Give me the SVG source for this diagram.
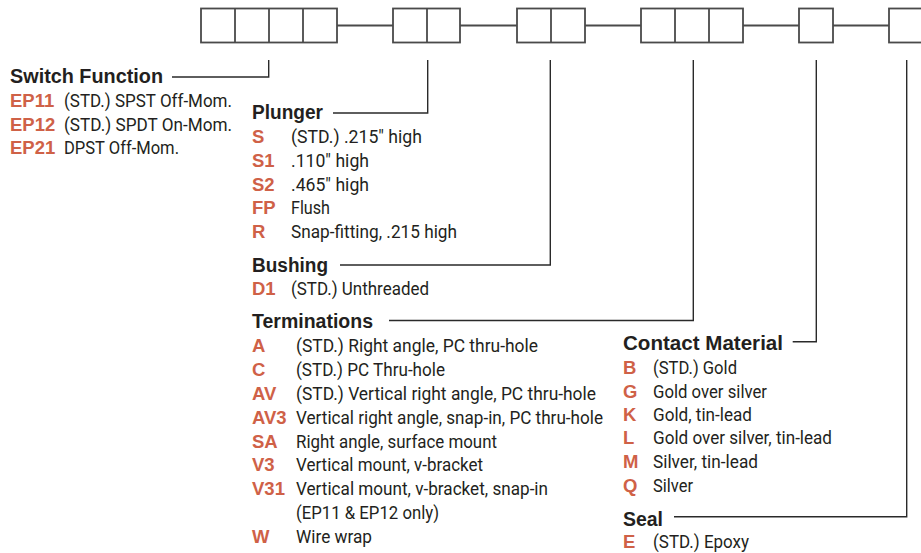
<svg xmlns="http://www.w3.org/2000/svg" width="921" height="553" viewBox="0 0 921 553">
<style>
.box{fill:#fff;stroke:#4a4a4a;stroke-width:1.8}
.link{fill:none;stroke:#4a4a4a;stroke-width:1.8}
.lead{fill:none;stroke:#2a2a2a;stroke-width:1.4}
.h{font-family:"Liberation Sans",Arial,sans-serif;font-weight:bold;font-size:19.5px;fill:#231f20}
.c{font-family:"Liberation Sans",Arial,sans-serif;font-weight:bold;font-size:18.5px;fill:#cf6147}
.d{font-family:Roboto,"Liberation Sans",sans-serif;font-size:18.7px;fill:#231f20}
</style>
<rect width="921" height="553" fill="#fff"/>
<g id="connectors">
<path class="link" d="M337 25.5H393M460 25.5H517M585 25.5H641M743 25.5H799M833 25.5H889"/>
<path class="lead" d="M268.7 60V77H172"/>
<path class="lead" d="M427.7 60V113H333"/>
<path class="lead" d="M550.3 60V265H340"/>
<path class="lead" d="M693.3 60V320.5H389"/>
<path class="lead" d="M816.3 60V341.7H792.7"/>
<path class="lead" d="M906.7 60V516.7H674"/>
</g>
<g id="box-switch">
<rect class="box" x="201" y="8.5" width="136" height="34"/>
<path class="link" d="M235 8.5V42.5M269 8.5V42.5M303 8.5V42.5"/>
</g>
<g id="box-plunger">
<rect class="box" x="393" y="8.5" width="67" height="34"/>
<path class="link" d="M427 8.5V42.5"/>
</g>
<g id="box-bushing">
<rect class="box" x="517" y="8.5" width="68" height="34"/>
<path class="link" d="M551 8.5V42.5"/>
</g>
<g id="box-terminations">
<rect class="box" x="641" y="8.5" width="102" height="34"/>
<path class="link" d="M675 8.5V42.5M709 8.5V42.5"/>
</g>
<g id="box-contact">
<rect class="box" x="799" y="8.5" width="34" height="34"/>
</g>
<g id="box-seal">
<rect class="box" x="889" y="8.5" width="34" height="34"/>
</g>
<g id="switch-function">
<text class="h" x="10" y="83" textLength="153" lengthAdjust="spacingAndGlyphs">Switch Function</text>
<text class="c" x="10" y="107">EP11</text><text class="d" x="64" y="107" textLength="168" lengthAdjust="spacingAndGlyphs">(STD.) SPST Off-Mom.</text>
<text class="c" x="10" y="130.5">EP12</text><text class="d" x="64" y="130.5" textLength="168" lengthAdjust="spacingAndGlyphs">(STD.) SPDT On-Mom.</text>
<text class="c" x="10" y="153.5">EP21</text><text class="d" x="64" y="153.5" textLength="115" lengthAdjust="spacingAndGlyphs">DPST Off-Mom.</text>
</g>
<g id="plunger">
<text class="h" x="252" y="119" textLength="71" lengthAdjust="spacingAndGlyphs">Plunger</text>
<text class="c" x="252" y="143.3">S</text><text class="d" x="291" y="143.3" textLength="131" lengthAdjust="spacingAndGlyphs">(STD.) .215" high</text>
<text class="c" x="252" y="166.8">S1</text><text class="d" x="291" y="166.8" textLength="78" lengthAdjust="spacingAndGlyphs">.110" high</text>
<text class="c" x="252" y="190.5">S2</text><text class="d" x="291" y="190.5" textLength="78" lengthAdjust="spacingAndGlyphs">.465" high</text>
<text class="c" x="252" y="214.3">FP</text><text class="d" x="291" y="214.3" textLength="39" lengthAdjust="spacingAndGlyphs">Flush</text>
<text class="c" x="252" y="238.2">R</text><text class="d" x="291" y="238.2" textLength="166" lengthAdjust="spacingAndGlyphs">Snap-fitting, .215 high</text>
</g>
<g id="bushing">
<text class="h" x="252" y="271.7" textLength="76" lengthAdjust="spacingAndGlyphs">Bushing</text>
<text class="c" x="252" y="295">D1</text><text class="d" x="291" y="295" textLength="138" lengthAdjust="spacingAndGlyphs">(STD.) Unthreaded</text>
</g>
<g id="terminations">
<text class="h" x="252" y="328.3" textLength="121" lengthAdjust="spacingAndGlyphs">Terminations</text>
<text class="c" x="252" y="352.3">A</text><text class="d" x="296" y="352.3" textLength="242" lengthAdjust="spacingAndGlyphs">(STD.) Right angle, PC thru-hole</text>
<text class="c" x="252" y="376">C</text><text class="d" x="296" y="376" textLength="149" lengthAdjust="spacingAndGlyphs">(STD.) PC Thru-hole</text>
<text class="c" x="252" y="400">AV</text><text class="d" x="296" y="400" textLength="300" lengthAdjust="spacingAndGlyphs">(STD.) Vertical right angle, PC thru-hole</text>
<text class="c" x="252" y="424">AV3</text><text class="d" x="296" y="424" textLength="307" lengthAdjust="spacingAndGlyphs">Vertical right angle, snap-in, PC thru-hole</text>
<text class="c" x="252" y="447.7">SA</text><text class="d" x="296" y="447.7" textLength="201" lengthAdjust="spacingAndGlyphs">Right angle, surface mount</text>
<text class="c" x="252" y="471.3">V3</text><text class="d" x="296" y="471.3" textLength="187" lengthAdjust="spacingAndGlyphs">Vertical mount, v-bracket</text>
<text class="c" x="252" y="495">V31</text><text class="d" x="296" y="495" textLength="252" lengthAdjust="spacingAndGlyphs">Vertical mount, v-bracket, snap-in</text>
<text class="d" x="296" y="518.7" textLength="143" lengthAdjust="spacingAndGlyphs">(EP11 &amp; EP12 only)</text>
<text class="c" x="252" y="542.7">W</text><text class="d" x="296" y="542.7" textLength="76" lengthAdjust="spacingAndGlyphs">Wire wrap</text>
</g>
<g id="contact-material">
<text class="h" x="623" y="350" textLength="160" lengthAdjust="spacingAndGlyphs">Contact Material</text>
<text class="c" x="623" y="374">B</text><text class="d" x="653" y="374" textLength="84" lengthAdjust="spacingAndGlyphs">(STD.) Gold</text>
<text class="c" x="623" y="397.7">G</text><text class="d" x="653" y="397.7" textLength="114" lengthAdjust="spacingAndGlyphs">Gold over silver</text>
<text class="c" x="623" y="420.7">K</text><text class="d" x="653" y="420.7" textLength="99" lengthAdjust="spacingAndGlyphs">Gold, tin-lead</text>
<text class="c" x="623" y="444.3">L</text><text class="d" x="653" y="444.3" textLength="179" lengthAdjust="spacingAndGlyphs">Gold over silver, tin-lead</text>
<text class="c" x="623" y="468.3">M</text><text class="d" x="653" y="468.3" textLength="105" lengthAdjust="spacingAndGlyphs">Silver, tin-lead</text>
<text class="c" x="623" y="491.7">Q</text><text class="d" x="653" y="491.7" textLength="40" lengthAdjust="spacingAndGlyphs">Silver</text>
</g>
<g id="seal">
<text class="h" x="623" y="525.7" textLength="40" lengthAdjust="spacingAndGlyphs">Seal</text>
<text class="c" x="623" y="548.3">E</text><text class="d" x="653" y="548.3" textLength="96" lengthAdjust="spacingAndGlyphs">(STD.) Epoxy</text>
</g>
</svg>
